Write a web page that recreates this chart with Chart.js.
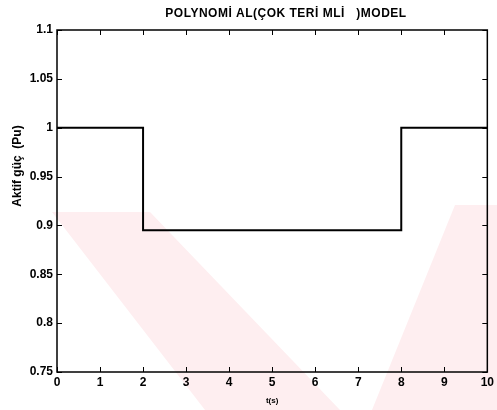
<!DOCTYPE html>
<html>
<head>
<meta charset="utf-8">
<script src="https://cdn.jsdelivr.net/npm/chart.js@4/dist/chart.umd.min.js"></script>
<style>
  html, body { margin: 0; padding: 0; background: #fff; }
  #wrap { width: 497px; height: 410px; }
</style>
</head>
<body>
<div id="wrap"><canvas id="chart" width="497" height="410"></canvas></div>
<script>
// ---------- Data ----------
const timeSec = [0, 2, 2, 8, 8, 10];
const activePower = [1, 1, 0.895, 0.895, 1, 1];
const xTicks = [0, 1, 2, 3, 4, 5, 6, 7, 8, 9, 10];
const yTicks = [0.75, 0.8, 0.85, 0.9, 0.95, 1, 1.05, 1.1];
const titleText = "POLYNOMİ AL(ÇOK TERİ MLİ   )MODEL";
const yTitleText = "Aktif güç  (Pu)";

const FONT = "'Liberation Sans', Arial, sans-serif";

// faint pink chevron in the background
const watermark = {
  id: "watermark",
  beforeDraw(chart) {
    const ctx = chart.ctx;
    ctx.save();
    ctx.fillStyle = "#feeef0";
    ctx.beginPath();
    ctx.moveTo(52, 212);
    ctx.lineTo(150, 212);
    ctx.lineTo(340, 410);
    ctx.lineTo(205, 410);
    ctx.closePath();
    ctx.fill();
    ctx.beginPath();
    ctx.moveTo(455, 205);
    ctx.lineTo(497, 205);
    ctx.lineTo(497, 410);
    ctx.lineTo(372, 410);
    ctx.closePath();
    ctx.fill();
    ctx.restore();
  },
};

// box frame with inward ticks on all four sides, plus title texts
const frame = {
  id: "frame",
  afterDraw(chart) {
    const { ctx, chartArea: a, scales } = chart;
    ctx.save();
    ctx.strokeStyle = "#000";
    ctx.lineWidth = 1.5;
    ctx.strokeRect(a.left, a.top, a.right - a.left, a.bottom - a.top);
    ctx.lineWidth = 1;
    const len = 5;
    ctx.beginPath();
    scales.x.ticks.forEach((t) => {
      const px = Math.round(scales.x.getPixelForValue(t.value)) + 0.5;
      ctx.moveTo(px, a.bottom);
      ctx.lineTo(px, a.bottom - len);
      ctx.moveTo(px, a.top);
      ctx.lineTo(px, a.top + len);
    });
    scales.y.ticks.forEach((t) => {
      const py = Math.round(scales.y.getPixelForValue(t.value)) + 0.5;
      ctx.moveTo(a.left, py);
      ctx.lineTo(a.left + len, py);
      ctx.moveTo(a.right, py);
      ctx.lineTo(a.right - len, py);
    });
    ctx.stroke();

    ctx.fillStyle = "#000";
    ctx.textAlign = "center";
    ctx.textBaseline = "middle";
    ctx.font = "bold 12px " + FONT;
    ctx.letterSpacing = "0.5px";
    ctx.fillText(titleText, 286, 14);
    ctx.letterSpacing = "0px";

    ctx.translate(18, 166);
    ctx.rotate(-Math.PI / 2);
    ctx.font = "bold 12px " + FONT;
    ctx.fillText(yTitleText, 0, 0);
    ctx.restore();
  },
};

new Chart(document.getElementById("chart"), {
  type: "line",
  data: {
    labels: timeSec,
    datasets: [
      {
        data: timeSec.map((t, i) => ({ x: t, y: activePower[i] })),
        borderColor: "#000",
        borderWidth: 2,
        pointRadius: 0,
        fill: false,
        tension: 0,
      },
    ],
  },
  options: {
    responsive: false,
    animation: false,
    layout: { padding: { left: 0, right: 8, top: 30, bottom: 0 } },
    plugins: {
      legend: { display: false },
      tooltip: { enabled: false },
      title: { display: false },
    },
    scales: {
      x: {
        type: "linear",
        min: 0,
        max: 10,
        afterBuildTicks: (s) => { s.ticks = xTicks.map((v) => ({ value: v })); },
        afterFit: (s) => { s.height = 38; },
        grid: { display: false, drawTicks: false },
        border: { display: false },
        ticks: {
          color: "#000",
          padding: 3,
          font: { family: FONT, size: 12, weight: "bold" },
        },
        title: {
          display: true,
          text: "t(s)",
          color: "#000",
          font: { family: FONT, size: 8, weight: "bold" },
          padding: { top: 0, bottom: 4 },
        },
      },
      y: {
        min: 0.75,
        max: 1.1,
        afterBuildTicks: (s) => { s.ticks = yTicks.map((v) => ({ value: v })); },
        afterFit: (s) => { s.width = 57; },
        grid: { display: false, drawTicks: false },
        border: { display: false },
        ticks: {
          color: "#000",
          padding: 4,
          font: { family: FONT, size: 12, weight: "bold" },
          callback: (v) => String(Math.round(v * 100) / 100),
        },
      },
    },
  },
  plugins: [watermark, frame],
});
</script>
</body>
</html>
